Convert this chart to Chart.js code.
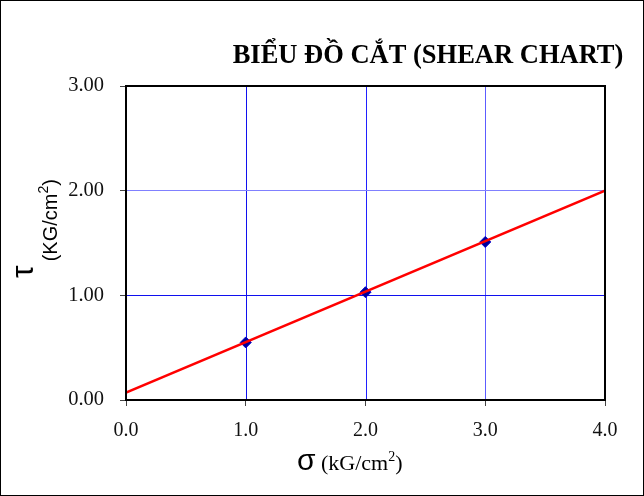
<!DOCTYPE html>
<html>
<head>
<meta charset="utf-8">
<script src="https://cdn.jsdelivr.net/npm/chart.js@4"></script>
<style>
  body { margin: 0; background: #fff; }
  #wrap { width: 644px; height: 496px; }
</style>
</head>
<body>
<div id="wrap"><canvas id="shear"></canvas></div>
<script>
// Test points (sigma, tau)
const sigmaValues = [1.0, 2.0, 3.0];
const tauValues = [0.55, 1.03, 1.51];

// Fitted shear line end points
const fitSigma = [0.0, 4.0];
const fitTau = [0.07, 2.0];

const xTicks = [0, 1, 2, 3, 4];
const yTicks = [0, 1, 2, 3];

const chartTitle = 'BIỂU ĐỒ CẮT (SHEAR CHART)';

// grid colours per tick line
const xGridColors = ['#000', '#1010ee', '#2020ff', '#5c5cff', '#000'];
const yGridColors = ['#000', '#1010ee', '#8080ff', '#000'];

const serif = '"Liberation Serif", "Times New Roman", serif';
const sans = '"Liberation Sans", Arial, sans-serif';

// grid lines, drawn from the scales so each line gets its own colour
const gridPlugin = {
    id: 'shearGrid',
    beforeDatasetsDraw(chart) {
        const ctx = chart.ctx;
        const a = chart.chartArea;
        const xs = chart.scales.x;
        const ys = chart.scales.y;
        ctx.save();
        ctx.lineWidth = 1;
        xTicks.forEach((v, i) => {
            const px = Math.round(xs.getPixelForValue(v)) + 0.5;
            ctx.strokeStyle = xGridColors[i];
            ctx.beginPath();
            ctx.moveTo(px, a.top);
            ctx.lineTo(px, a.bottom);
            ctx.stroke();
        });
        yTicks.forEach((v, i) => {
            const py = Math.floor(ys.getPixelForValue(v)) + 0.5;
            ctx.strokeStyle = yGridColors[i];
            ctx.beginPath();
            ctx.moveTo(a.left, py);
            ctx.lineTo(a.right, py);
            ctx.stroke();
        });
        ctx.restore();
    }
};

// Background, outer frame, plot frame and the axis titles
const decorPlugin = {
    id: 'decor',
    beforeDraw(chart) {
        const ctx = chart.ctx;
        ctx.save();
        ctx.fillStyle = '#fff';
        ctx.fillRect(0, 0, chart.width, chart.height);
        ctx.restore();
    },
    afterDraw(chart) {
        const ctx = chart.ctx;
        const a = chart.chartArea;
        ctx.save();
        // outer frame
        ctx.strokeStyle = '#000';
        ctx.lineWidth = 1;
        ctx.strokeRect(0.5, 0.5, chart.width - 1, chart.height - 1);
        // plot frame
        ctx.lineWidth = 2;
        ctx.strokeRect(a.left, a.top, a.right - a.left, a.bottom - a.top);

        // chart title
        ctx.fillStyle = '#000';
        ctx.font = 'bold 26.5px ' + serif;
        ctx.textAlign = 'center';
        ctx.textBaseline = 'alphabetic';
        ctx.fillText(chartTitle, 428, 63);

        // x axis title: σ (kG/cm²)
        ctx.textAlign = 'left';
        let x = 297;
        const yb = 470;
        ctx.font = '30px ' + sans;
        ctx.fillText('σ', x, yb);
        x += ctx.measureText('σ').width;
        ctx.font = '22px ' + serif;
        ctx.fillText(' (kG/cm', x, yb);
        x += ctx.measureText(' (kG/cm').width;
        ctx.font = '14px ' + serif;
        ctx.fillText('2', x, yb - 9);
        x += ctx.measureText('2').width;
        ctx.font = '22px ' + serif;
        ctx.fillText(')', x, yb);

        // y axis title: τ (KG/cm²), rotated
        ctx.translate(57, 0);
        ctx.rotate(-Math.PI / 2);
        let p = -278;
        ctx.font = '32px ' + sans;
        ctx.fillText('τ', p, -24);
        p += ctx.measureText('τ').width + 4;
        ctx.font = '20px ' + sans;
        ctx.fillText('(KG/cm', p, 0);
        p += ctx.measureText('(KG/cm').width;
        ctx.font = '14px ' + sans;
        ctx.fillText('2', p, -9);
        p += ctx.measureText('2').width;
        ctx.font = '20px ' + sans;
        ctx.fillText(')', p, 0);
        ctx.restore();
    }
};

const ctx = document.getElementById('shear').getContext('2d');
const shearChart = new Chart(ctx, {
    type: 'scatter',
    data: {
        datasets: [
            {
                label: 'Fit',
                data: fitSigma.map((s, i) => ({ x: s, y: fitTau[i] })),
                showLine: true,
                borderColor: '#ff0000',
                borderWidth: 2.5,
                pointRadius: 0,
                fill: false
            },
            {
                label: 'Test',
                data: sigmaValues.map((s, i) => ({ x: s, y: tauValues[i] })),
                pointStyle: 'rectRot',
                pointRadius: 5.5,
                backgroundColor: '#000099',
                borderColor: '#0000cc',
                borderWidth: 1
            }
        ]
    },
    options: {
        responsive: true,
        maintainAspectRatio: false,
        animation: false,
        layout: { padding: { top: 86, right: 39, left: 0, bottom: 0 } },
        scales: {
            x: {
                type: 'linear',
                min: xTicks[0],
                max: xTicks[xTicks.length - 1],
                afterBuildTicks: (scale) => { scale.ticks = xTicks.map(v => ({ value: v })); },
                afterFit: (scale) => { scale.height = 96; },
                grid: { drawOnChartArea: false, tickLength: 6, tickColor: '#444' },
                border: { color: '#000', width: 2 },
                ticks: {
                    color: '#111',
                    padding: 13,
                    font: { family: serif, size: 20 },
                    callback: (v) => Number(v).toFixed(1)
                }
            },
            y: {
                type: 'linear',
                min: yTicks[0],
                max: yTicks[yTicks.length - 1],
                afterBuildTicks: (scale) => { scale.ticks = yTicks.map(v => ({ value: v })); },
                afterFit: (scale) => { scale.width = 126; },
                grid: { drawOnChartArea: false, tickLength: 6, tickColor: '#444' },
                border: { color: '#000', width: 2 },
                ticks: {
                    color: '#111',
                    padding: 16,
                    font: { family: serif, size: 20.5 },
                    callback: (v) => Number(v).toFixed(2)
                }
            }
        },
        plugins: {
            legend: { display: false },
            tooltip: { enabled: false },
            title: { display: false }
        }
    },
    plugins: [gridPlugin, decorPlugin]
});
</script>
</body>
</html>
